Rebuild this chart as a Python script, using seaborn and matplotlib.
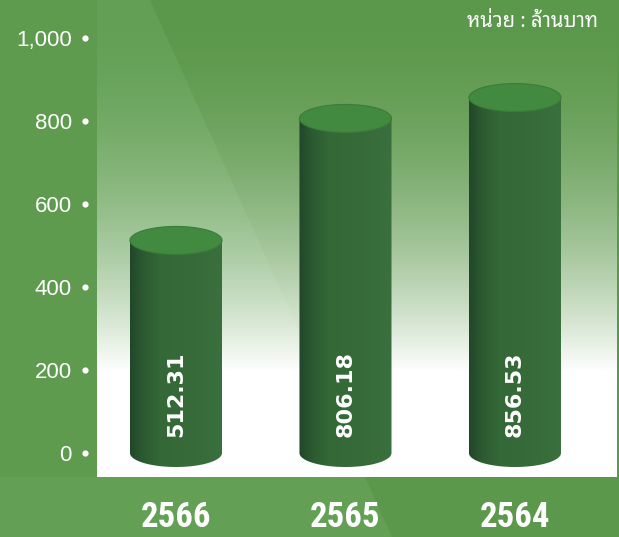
import numpy as np
import matplotlib
matplotlib.use("Agg")
import matplotlib.pyplot as plt
import seaborn as sns
from matplotlib.patches import Ellipse, Polygon, Rectangle, PathPatch
from matplotlib.path import Path
import matplotlib.transforms as mtrans
from matplotlib.colors import LinearSegmentedColormap

# ---------------- data ----------------
years = ["2566", "2565", "2564"]
values = [512.31, 806.18, 856.53]
value_labels = ["512.31", "806.18", "856.53"]
y_ticks = [0, 200, 400, 600, 800, 1000]
y_tick_labels = ["0", "200", "400", "600", "800", "1,000"]
unit_label = "หน่วย : ล้านบาท"

sns.set_style("white")
plt.rcParams["font.family"] = ["Liberation Sans", "DejaVu Sans"]

W, H = 619, 537
fig = plt.figure(figsize=(W / 100, H / 100), dpi=100, facecolor="#5c984b")

# background light diagonal band
fig.patches.append(Polygon([(0, 1), (150 / W, 1), (392 / W, 0), (0, 0)], closed=True,
                           transform=fig.transFigure, facecolor="#63a055",
                           edgecolor="none", zorder=-10))
fig.patches.append(Rectangle((0, 60 / H), 97 / W, 1, transform=fig.transFigure,
                             facecolor="#5f9b4f", edgecolor="none", zorder=-9))

ax = fig.add_axes([97 / W, 60 / H, 520 / W, 477 / H])
ax.set_facecolor("none")

sns.barplot(x=years, y=values, order=years, ax=ax, width=0.543, color="#356a37")

XL = (-0.466, 2.602)
YL = (-57.8, 1091.6)

# plot-area gradient: transparent green at top -> white at bottom
n = 477
py = np.arange(n)
alpha = np.clip(py / 370.0, 0, 1) ** 2
grad = np.ones((n, 2, 4))
grad[:, :, 3] = alpha[:, None]
ax.imshow(grad, extent=(XL[0], XL[1], YL[0], YL[1]), aspect="auto", zorder=0.5,
          interpolation="bilinear")

side_cmap = LinearSegmentedColormap.from_list(
    "side", [(0, "#21472a"), (0.12, "#2b5830"), (0.32, "#346837"), (0.7, "#376c3a"), (1, "#3a703d")])

e = 33.7  # ellipse half-height in data units
for p, lab in zip(list(ax.patches), value_labels):
    x0, w, h = p.get_x(), p.get_width(), p.get_height()
    xc = x0 + w / 2
    p.set_visible(False)
    th = np.linspace(np.pi, 2 * np.pi, 60)
    verts = [(x0, h), (x0, 0)] + [(xc + w / 2 * np.cos(t), e * np.sin(t)) for t in th] + [(x0 + w, h), (x0, h)]
    codes = [Path.MOVETO] + [Path.LINETO] * (len(verts) - 2) + [Path.CLOSEPOLY]
    body = PathPatch(Path(verts, codes), transform=ax.transData, facecolor="none", edgecolor="none")
    ax.add_patch(body)
    im = ax.imshow(np.linspace(0, 1, 200)[None, :], extent=(x0, x0 + w, -e, h), aspect="auto",
                   cmap=side_cmap, zorder=2, interpolation="bilinear")
    im.set_clip_path(body)
    ax.add_patch(Ellipse((xc, h), w, 2 * e, facecolor="#428a40", edgecolor="#3b7b3c", lw=0.8, zorder=3))
    ax.text(xc, 38, lab, rotation=90, ha="center", va="bottom", color="white", fontsize=16,
            fontweight="bold", family="DejaVu Sans", zorder=4)

ax.set_xlim(*XL)
ax.set_ylim(*YL)
for s in ax.spines.values():
    s.set_visible(False)
ax.grid(False)
ax.set_xlabel("")
ax.set_ylabel("")

ax.set_yticks(y_ticks)
ax.set_yticklabels(y_tick_labels)
ax.tick_params(axis="y", length=0, pad=18, labelsize=16, labelcolor="white")
ax.tick_params(axis="x", length=0, pad=17, labelsize=25, labelcolor="white")
for t in ax.get_xticklabels():
    t.set_family(["Roboto Condensed", "DejaVu Sans"])
    t.set_fontweight("bold")

blend = mtrans.blended_transform_factory(ax.transAxes, ax.transData)
ax.plot([-12 / 520] * len(y_ticks), y_ticks, "o", color="white", ms=4.5, mew=0,
        transform=blend, clip_on=False, zorder=5)

fig.text(598 / W, 1 - 22 / H, unit_label, ha="right", va="center", color="white",
         fontsize=14.5, family=["Noto Sans Thai Looped", "DejaVu Sans"])

fig.savefig("out.png", dpi=100, facecolor=fig.get_facecolor())
